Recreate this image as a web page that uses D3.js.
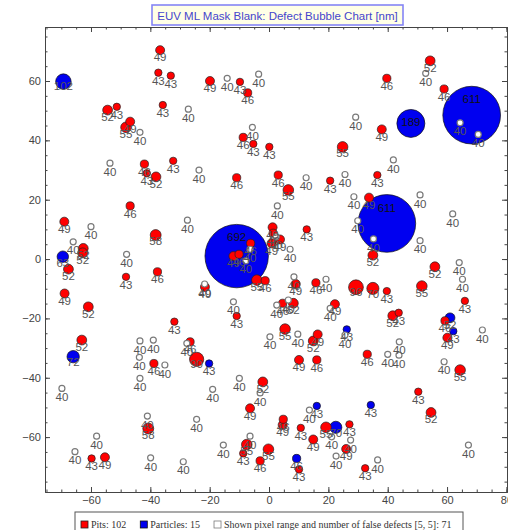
<!DOCTYPE html>
<html>
<head>
<meta charset="utf-8">
<script src="https://cdn.jsdelivr.net/npm/d3@7"></script>
<style>
  body { margin: 0; background: #fff; }
  .axis text { font-family: "Liberation Sans", Arial, sans-serif; font-size: 11px; fill: #444; }
  .axis path, .axis line { stroke: #444; }
</style>
</head>
<body>
<script>
// chart values: [x, y, size]
var title = "EUV ML Mask Blank: Defect Bubble Chart [nm]";
var legendLabels = ["Pits: 102", "Particles: 15", "Shown pixel range and number of false defects [5, 5]: 71"];
var xTicks = [-60, -40, -20, 0, 20, 40, 60, 80];
var yTicks = [-60, -40, -20, 0, 20, 40, 60];

var pits = [
  [-36.7, 70.4, 49], [-37.3, 62.8, 43], [-33.1, 61.8, 43], [-35.8, 51.9, 43], [-19.9, 60.0, 49],
  [-9.8, 59.7, 43], [-7.2, 56.0, 46], [-54.4, 50.2, 52], [-51.3, 51.3, 43], [-46.8, 46.3, 49],
  [-48.2, 44.4, 55], [-8.7, 41.0, 46], [-5.3, 38.8, 43], [0.1, 37.8, 43], [54.3, 66.8, 52],
  [39.7, 60.9, 46], [59.0, 57.3, 46], [38.0, 43.7, 49], [24.8, 37.8, 55], [-42.0, 32.0, 46],
  [-41.2, 28.9, 43], [-38.1, 27.7, 52], [-32.3, 33.1, 43], [-10.9, 27.4, 46], [-46.8, 17.9, 46],
  [-69.0, 12.6, 49], [-62.6, 3.6, 52], [-62.8, 2.1, 52], [-38.2, 8.1, 58], [3.1, 28.3, 46],
  [6.5, 23.3, 55], [20.6, 26.4, 43], [36.5, 28.3, 43], [33.7, 20.7, 49], [35.0, 1.3, 52],
  [12.7, 10.0, 43], [1.2, 10.7, 49], [1.4, 8.7, 46], [3.7, 6.6, 49], [0.9, 5.3, 49],
  [-6.2, 5.3, 46], [-12.0, 1.0, 49], [-10.1, 1.6, 46], [55.9, -2.6, 52], [-67.6, -3.4, 52],
  [-48.2, -6.0, 43], [-37.6, -4.3, 46], [-68.9, -11.6, 49], [-60.9, -16.1, 52], [-21.6, -9.4, 49],
  [-4.1, -7.1, 55], [-1.3, -7.3, 46], [-10.9, -19.2, 43], [-31.9, -21.1, 43], [-63.1, -27.3, 52],
  [-26.6, -27.9, 46], [-24.4, -33.8, 90], [-38.8, -35.2, 46], [-2.1, -41.4, 52], [9.0, -8.4, 49],
  [15.8, -8.0, 46], [29.3, -9.5, 96], [35.0, -9.9, 70], [39.7, -10.8, 43], [51.5, -9.1, 55],
  [66.0, -14.1, 43], [4.6, -14.9, 46], [8.2, -14.9, 52], [22.2, -15.2, 49], [41.7, -19.1, 52],
  [43.7, -18.1, 43], [59.3, -20.8, 46], [60.1, -26.5, 49], [5.4, -23.6, 55], [16.4, -25.4, 49],
  [14.9, -27.6, 52], [33.1, -32.1, 46], [10.1, -34.0, 49], [16.1, -34.0, 46], [64.4, -37.4, 55],
  [-6.4, -50.3, 49], [-40.7, -57.1, 58], [-59.8, -67.2, 43], [-55.3, -66.8, 49], [-7.5, -62.5, 55],
  [-8.7, -65.5, 43], [-3.0, -68.0, 46], [-0.2, -64.1, 55], [50.3, -44.7, 43], [54.6, -51.7, 52],
  [4.8, -54.0, 46], [4.6, -55.9, 49], [10.7, -56.9, 43], [19.2, -56.7, 55], [27.1, -55.7, 43],
  [14.9, -60.8, 49], [26.0, -64.0, 49], [10.1, -70.9, 43], [32.4, -70.5, 43]
];

var particles = [
  [-69.3, 59.8, 102], [-10.9, 1.0, 692], [68.3, 48.5, 611], [47.8, 45.7, 189], [39.7, 12.0, 611],
  [-69.5, 0.8, 63], [-66.0, -32.9, 72], [-20.2, -35.2, 43], [26.2, -23.7, 43], [61.0, -19.8, 52],
  [62.1, -24.3, 43], [16.1, -49.5, 43], [34.3, -49.2, 43], [22.5, -56.7, 70], [9.3, -67.2, 46]
];

var falseDefects = [
  [-14.1, 60.9, 40], [-3.5, 62.3, 40], [-27.2, 50.5, 40], [-43.5, 42.7, 40], [-5.6, 44.4, 40],
  [52.8, 62.6, 40], [64.4, 45.9, 40], [70.5, 42.0, 40], [29.2, 47.8, 40], [-53.6, 32.3, 40],
  [-23.6, 30.0, 40], [-60.0, 10.9, 40], [-66.0, 5.8, 40], [-27.5, 13.1, 40], [-48.0, 1.6, 40],
  [-6.4, 3.3, 40], [-7.8, -0.6, 40], [41.9, 33.4, 40], [12.5, 27.4, 40], [25.6, 28.5, 40],
  [28.6, 21.0, 40], [50.9, 21.6, 40], [61.9, 15.2, 40], [2.8, 17.9, 40], [29.9, 12.9, 40],
  [35.2, 6.8, 40], [50.9, 6.2, 40], [2.4, 7.5, 40], [7.1, 3.3, 40], [64.1, -1.2, 40],
  [-21.7, -8.4, 40], [-12.0, -14.4, 40], [-43.5, -27.6, 40], [-39.0, -27.3, 40], [-27.7, -28.4, 40],
  [-43.7, -33.1, 40], [-35.1, -35.7, 40], [-43.5, -40.2, 40], [-10.0, -40.2, 40], [-69.8, -43.6, 40],
  [8.4, -6.0, 40], [19.2, -6.8, 40], [65.2, -6.8, 40], [2.6, -15.5, 40], [6.5, -13.8, 40],
  [20.6, -16.6, 40], [71.9, -23.9, 40], [0.3, -26.2, 40], [9.7, -25.3, 40], [25.6, -25.6, 40],
  [43.9, -27.9, 40], [40.0, -32.1, 40], [43.8, -32.4, 40], [59.0, -34.6, 40], [-19.0, -43.9, 40],
  [-3.0, -45.1, 40], [-24.4, -54.0, 40], [-41.0, -52.9, 40], [-58.1, -59.7, 40], [-65.4, -64.9, 40],
  [-39.9, -67.0, 40], [-28.9, -68.3, 40], [-15.4, -62.7, 40], [-6.4, -59.7, 40], [13.6, -50.9, 40],
  [21.1, -59.9, 40], [27.5, -61.0, 40], [22.6, -66.4, 40], [36.6, -67.7, 40], [67.2, -62.7, 40]
];

var svgWidth = 508;
var svgHeight = 530;
var frame = { left: 45, right: 507, top: 27, bottom: 492 };

var svg = d3.select("body").append("svg")
  .attr("width", svgWidth)
  .attr("height", svgHeight);

var xScale = d3.scaleLinear().domain([-75.5, 80.2]).range([frame.left, frame.right]);
var yScale = d3.scaleLinear().domain([-78.5, 78.2]).range([frame.bottom, frame.top]);
var rScale = d3.scaleLinear().domain([40, 43, 55, 100, 189, 692]).range([3, 3.7, 5.3, 7.6, 14, 31.7]);

var minorX = d3.range(-75, 81, 5);
var minorY = d3.range(-75, 79, 5);

// minor ticks (inward)
svg.append("g").attr("class", "axis").attr("transform", `translate(0,${frame.bottom})`)
  .call(d3.axisBottom(xScale).tickValues(minorX).tickSize(-2.5).tickSizeOuter(0).tickFormat(""));
svg.append("g").attr("class", "axis").attr("transform", `translate(0,${frame.top})`)
  .call(d3.axisTop(xScale).tickValues(minorX).tickSize(-2.5).tickSizeOuter(0).tickFormat(""));
svg.append("g").attr("class", "axis").attr("transform", `translate(${frame.left},0)`)
  .call(d3.axisLeft(yScale).tickValues(minorY).tickSize(-2.5).tickSizeOuter(0).tickFormat(""));
svg.append("g").attr("class", "axis").attr("transform", `translate(${frame.right},0)`)
  .call(d3.axisRight(yScale).tickValues(minorY).tickSize(-2.5).tickSizeOuter(0).tickFormat(""));

// major ticks
svg.append("g").attr("class", "axis").attr("transform", `translate(0,${frame.bottom})`)
  .call(d3.axisBottom(xScale).tickValues(xTicks).tickSize(-5).tickSizeOuter(0).tickPadding(4));
svg.append("g").attr("class", "axis").attr("transform", `translate(0,${frame.top})`)
  .call(d3.axisTop(xScale).tickValues(xTicks).tickSize(-5).tickSizeOuter(0).tickFormat(""));
svg.append("g").attr("class", "axis").attr("transform", `translate(${frame.left},0)`)
  .call(d3.axisLeft(yScale).tickValues(yTicks).tickSize(-5).tickSizeOuter(0).tickPadding(4));
svg.append("g").attr("class", "axis").attr("transform", `translate(${frame.right},0)`)
  .call(d3.axisRight(yScale).tickValues(yTicks).tickSize(-5).tickSizeOuter(0).tickFormat(""));

var styles = {
  pit: { fill: "#ff0000", stroke: "#222", sw: 0.7 },
  particle: { fill: "#0000f0", stroke: "#111", sw: 0.7 },
  fake: { fill: "#ffffff", stroke: "#7a7a7a", sw: 1.2 }
};

var allPoints = [];
pits.forEach(d => allPoints.push({ x: d[0], y: d[1], s: d[2], type: "pit" }));
particles.forEach(d => allPoints.push({ x: d[0], y: d[1], s: d[2], type: "particle" }));
falseDefects.forEach(d => allPoints.push({ x: d[0], y: d[1], s: d[2], type: "fake" }));
allPoints.sort((a, b) => b.s - a.s);

var plot = svg.append("g");

plot.selectAll("circle").data(allPoints).enter().append("circle")
  .attr("cx", d => xScale(d.x))
  .attr("cy", d => yScale(d.y))
  .attr("r", d => rScale(d.s))
  .attr("fill", d => styles[d.type].fill)
  .attr("stroke", d => styles[d.type].stroke)
  .attr("stroke-width", d => styles[d.type].sw);

plot.selectAll("text").data(allPoints).enter().append("text")
  .attr("x", d => xScale(d.x))
  .attr("y", d => yScale(d.y) + 15.5 - 0.95 * rScale(d.s))
  .attr("text-anchor", "middle")
  .attr("font-family", "Liberation Sans, Arial, sans-serif")
  .attr("font-size", "11.5px")
  .attr("fill", d => d.type == "particle" && d.s > 150 ? "#111" : "#555")
  .text(d => d.s);

// title box
var tg = svg.append("g");
tg.append("rect")
  .attr("x", 152).attr("y", 5).attr("width", 251).attr("height", 20)
  .attr("fill", "#ffffe6").attr("stroke", "#8585f5").attr("stroke-width", 1.6);
tg.append("text")
  .attr("x", 277.5).attr("y", 19.5)
  .attr("text-anchor", "middle")
  .attr("font-family", "Liberation Sans, Arial, sans-serif")
  .attr("font-size", "11.5px")
  .attr("fill", "#4545cc")
  .text(title);

// legend
var lg = svg.append("g");
lg.append("rect")
  .attr("x", 75).attr("y", 512).attr("width", 388).attr("height", 26)
  .attr("fill", "#fff").attr("stroke", "#555").attr("stroke-width", 1);
var legendStyles = [styles.pit, styles.particle, styles.fake];
var lx = 81;
legendLabels.forEach(function(label, i) {
  lg.append("rect")
    .attr("x", lx).attr("y", 521).attr("width", 7).attr("height", 7)
    .attr("fill", legendStyles[i].fill)
    .attr("stroke", legendStyles[i].stroke)
    .attr("stroke-width", 0.8);
  var t = lg.append("text")
    .attr("x", lx + 10).attr("y", 528)
    .attr("font-family", "Liberation Serif, Times New Roman, serif")
    .attr("font-size", "10px")
    .attr("fill", "#333")
    .text(label);
  lx = lx + 10 + t.node().getComputedTextLength() + 14;
});
</script>
</body>
</html>
